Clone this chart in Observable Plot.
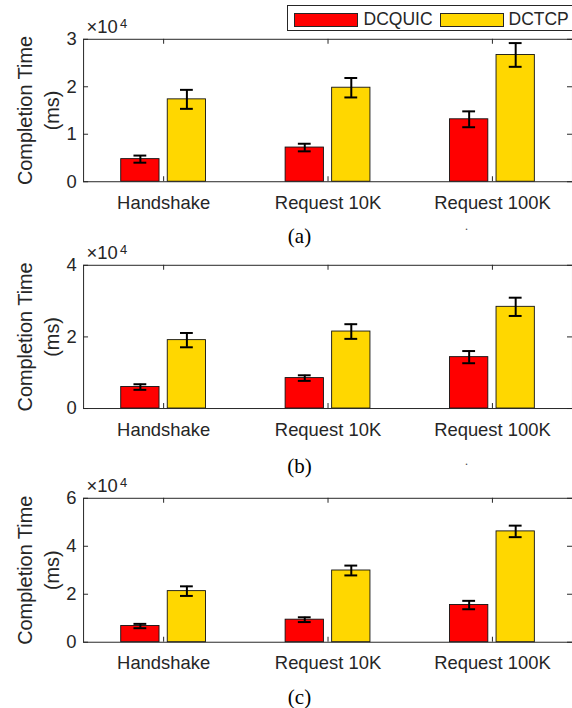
<!DOCTYPE html>
<html><head><meta charset="utf-8">
<script src="https://cdn.jsdelivr.net/npm/d3@7"></script>
<script src="https://cdn.jsdelivr.net/npm/@observablehq/plot@0.6"></script>
<style>
html,body{margin:0;padding:0;background:#fff;overflow:hidden;width:572px;height:708px;}
#root{position:relative;width:572px;height:708px;overflow:hidden;font-family:"Liberation Sans",Arial,sans-serif;}
.panel{position:absolute;left:0;}
.cap{position:absolute;font-family:"Liberation Serif","Times New Roman",serif;font-size:21px;color:#000;transform:translate(-50%,-50%);line-height:1;}
.dot{position:absolute;font-family:"Liberation Serif",serif;font-size:12px;color:#444;line-height:1;}
#legend{position:absolute;left:287px;top:5px;width:300px;height:26px;border:1px solid #262626;background:#fff;box-sizing:border-box;}
.sw{position:absolute;top:7px;height:14px;border:1px solid #262626;box-sizing:border-box;}
.lt{position:absolute;top:3px;font-size:17.5px;color:#262626;line-height:20px;}
</style></head><body><div id="root"></div>
<script>
// ---- data ----
const categories = ["Handshake", "Request 10K", "Request 100K"];
const series = ["DCQUIC", "DCTCP"];
const seriesColors = ["#ff0000", "#ffd700"];

// panel (a)
const dcquicA = [4760, 7200, 13150];
const dcquicErrA = [750, 800, 1670];
const dctcpA = [17350, 19800, 26700];
const dctcpErrA = [2000, 2050, 2500];
const yTicksA = [0, 10000, 20000, 30000];

// panel (b)
const dcquicB = [6000, 8500, 14350];
const dcquicErrB = [780, 780, 1700];
const dctcpB = [19100, 21500, 28400];
const dctcpErrB = [2000, 2050, 2550];
const yTicksB = [0, 20000, 40000];

// panel (c)
const dcquicC = [6750, 9400, 15500];
const dcquicErrC = [900, 1000, 1750];
const dctcpC = [21300, 29900, 46200];
const dctcpErrC = [2000, 2050, 2400];
const yTicksC = [0, 20000, 40000, 60000];

const xTickPositions = [1, 2, 3];
const captions = ["(a)", "(b)", "(c)"];

// ---- layout ----
const panels = [
  {q: dcquicA, qe: dcquicErrA, t: dctcpA, te: dctcpErrA, ticks: yTicksA, top: -0.7, ph: 143.2, capY: 236},
  {q: dcquicB, qe: dcquicErrB, t: dctcpB, te: dctcpErrB, ticks: yTicksB, top: 225, ph: 144, capY: 466},
  {q: dcquicC, qe: dcquicErrC, t: dctcpC, te: dctcpErrC, ticks: yTicksC, top: 458.3, ph: 144.7, capY: 697}
];
const W = 575, MT = 40, MB = 50, ML = 83.5;
const XDOM = [0.513, 3.487];
const OFF = 0.1415, HALF = 0.1165, CAP = 0.039;
const TICKPX = 5;
const ink = "#262626";
const root = document.getElementById("root");

panels.forEach((p, k) => {
  const rows = [];
  categories.forEach((c, i) => {
    rows.push({cat: i + 1, series: series[0], value: p.q[i], err: p.qe[i], off: -OFF});
    rows.push({cat: i + 1, series: series[1], value: p.t[i], err: p.te[i], off: OFF});
  });
  const ymax = p.ticks[p.ticks.length - 1];
  const cx = d => d.cat + d.off;
  // tick lengths (5 px) expressed in data units of each scale
  const tY = TICKPX / p.ph * ymax;
  const tX = TICKPX / (W - ML) * (XDOM[1] - XDOM[0]);
  const chart = Plot.plot({
    width: W, height: MT + p.ph + MB,
    marginLeft: ML, marginRight: 0, marginTop: MT, marginBottom: MB,
    x: {domain: XDOM, axis: null},
    y: {domain: [0, ymax], axis: null},
    color: {domain: series, range: seriesColors},
    style: {fontFamily: '"Liberation Sans", Arial, sans-serif', fontSize: "18px", color: ink, background: "transparent", overflow: "visible"},
    marks: [
      Plot.rect(rows, {x1: d => cx(d) - HALF, x2: d => cx(d) + HALF, y1: d => 0, y2: "value", fill: "series", stroke: "#111", strokeWidth: 0.9}),
      Plot.ruleX(rows, {x: cx, y1: d => d.value - d.err, y2: d => d.value + d.err, stroke: "#000", strokeWidth: 2}),
      Plot.ruleY(rows, {x1: d => cx(d) - CAP, x2: d => cx(d) + CAP, y: d => d.value - d.err, stroke: "#000", strokeWidth: 2}),
      Plot.ruleY(rows, {x1: d => cx(d) - CAP, x2: d => cx(d) + CAP, y: d => d.value + d.err, stroke: "#000", strokeWidth: 2}),
      // inward tick marks (MATLAB style box axes)
      Plot.ruleX(xTickPositions, {x: d => d, y1: d => 0, y2: d => tY, stroke: ink, strokeWidth: 1}),
      Plot.ruleX(xTickPositions, {x: d => d, y1: d => ymax - tY, y2: d => ymax, stroke: ink, strokeWidth: 1}),
      Plot.ruleY(p.ticks, {y: d => d, x1: d => XDOM[0], x2: d => XDOM[0] + tX, stroke: ink, strokeWidth: 1}),
      Plot.ruleY(p.ticks, {y: d => d, x1: d => XDOM[1] - tX, x2: d => XDOM[1], stroke: ink, strokeWidth: 1}),
      Plot.frame({stroke: ink, strokeWidth: 1}),
      Plot.axisX({anchor: "bottom", ticks: xTickPositions, tickSize: 0, tickPadding: 14, tickFormat: i => categories[i - 1], label: null, fill: ink, fontSize: 18.5}),
      Plot.axisY({anchor: "left", ticks: p.ticks, tickSize: 0, tickPadding: 7, tickFormat: v => String(v / 1e4), label: null, fill: ink, fontSize: 18.5}),
      Plot.text([0], {frameAnchor: "left", text: () => "Completion Time\n(ms)", rotate: -90, dx: -47, fontSize: 20, lineHeight: 1.35, textAnchor: "middle", lineAnchor: "middle", fill: ink}),
      Plot.text([0], {frameAnchor: "top-left", text: () => "×10", dx: 3, dy: -6.3, textAnchor: "start", lineAnchor: "bottom", fontSize: 18.5, fill: ink}),
      Plot.text([0], {frameAnchor: "top-left", text: () => "4", dx: 36.5, dy: -11.3, textAnchor: "start", lineAnchor: "bottom", fontSize: 13, fill: ink})
    ]
  });
  chart.classList.add("panel");
  chart.style.top = p.top + "px";
  root.appendChild(chart);

  const cap = document.createElement("div");
  cap.className = "cap";
  cap.textContent = captions[k];
  cap.style.left = "299.5px";
  cap.style.top = p.capY + "px";
  root.appendChild(cap);
});

// stray dots as in the reference
[[465, 220], [465, 455]].forEach(([x, y]) => {
  const d = document.createElement("div");
  d.className = "dot"; d.textContent = "."; d.style.left = x + "px"; d.style.top = y + "px";
  root.appendChild(d);
});

// legend
const lg = document.createElement("div");
lg.id = "legend";
const swX = [6, 152], txX = [75.5, 220.5], swW = 64;
series.forEach((s, i) => {
  const sw = document.createElement("div");
  sw.className = "sw"; sw.style.left = swX[i] + "px"; sw.style.width = swW + "px"; sw.style.background = seriesColors[i];
  lg.appendChild(sw);
  const t = document.createElement("div");
  t.className = "lt"; t.style.left = txX[i] + "px"; t.textContent = s;
  lg.appendChild(t);
});
root.appendChild(lg);
</script></body></html>
